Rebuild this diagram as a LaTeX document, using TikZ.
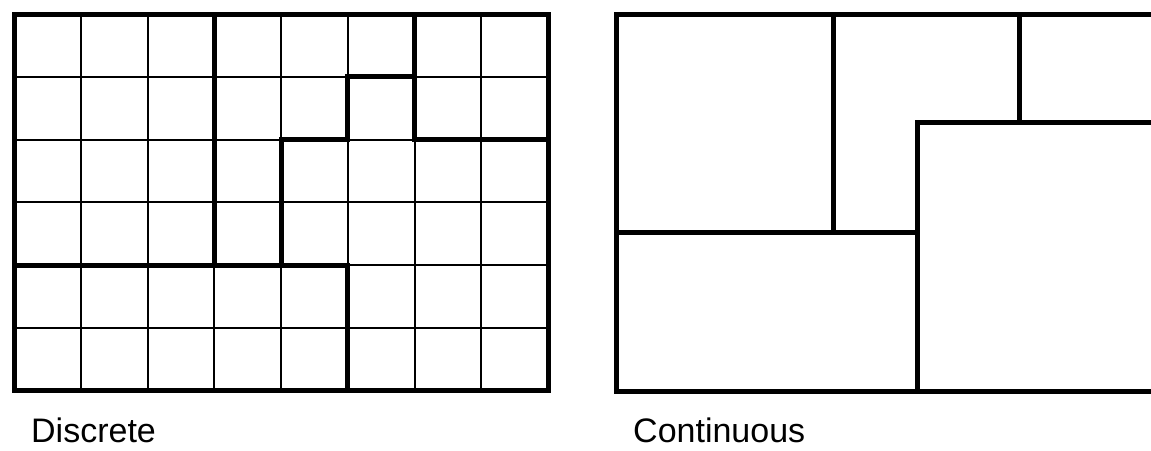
\documentclass[tikz,border=0pt]{standalone}
\usepackage{fontspec}
\setmainfont{Liberation Sans}
\begin{document}
\begin{tikzpicture}[
    x=1pt, y=-1pt,
    gridline/.style={line width=2pt},
    region/.style={line width=5pt, line cap=rect, line join=miter},
    caption/.style={anchor=base west, inner sep=0pt, font=\fontsize{34}{40}\selectfont}
]
\useasboundingbox (0,0) rectangle (1151,450);

% discrete: 8 x 6 cells
\begin{scope}[shift={(14pt,-14pt)}, x=66.75pt, y=-62.83pt]
  \foreach \c in {1,...,7}
    \draw[gridline] (\c,0) -- (\c,6);
  \foreach \r in {1,...,5}
    \draw[gridline] (0,\r) -- (8,\r);
  \draw[region] (0,0) rectangle (8,6);
  \draw[region] (3,0) -- (3,4);
  \draw[region] (6,0) -- (6,2) -- (8,2);
  \draw[region] (6,1) -- (5,1) -- (5,2) -- (4,2) -- (4,4);
  \draw[region] (0,4) -- (5,4) -- (5,6);
\end{scope}

% continuous
\draw[region] (616,14) rectangle (1153.5,391);
\draw[region] (833,14) -- (833,232);
\draw[region] (1019,14) -- (1019,122);
\draw[region] (616,232) -- (917,232);
\draw[region] (917,391) -- (917,122) -- (1153.5,122);

\node[caption] (discrete) at (31,442) {Discrete};
\node[caption] (continuous) at (633,442) {Continuous};
\end{tikzpicture}
\end{document}
